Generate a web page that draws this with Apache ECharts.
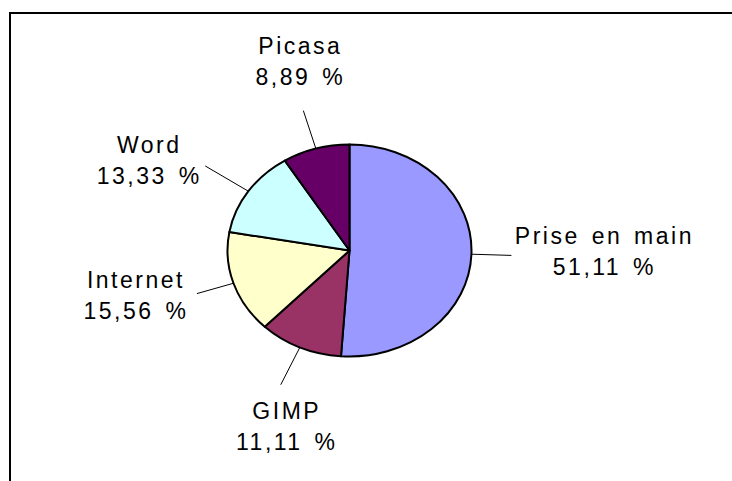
<!DOCTYPE html>
<html>
<head>
<meta charset="utf-8">
<script src="https://cdn.jsdelivr.net/npm/echarts@6/dist/echarts.min.js"></script>
<style>
  html, body { margin: 0; padding: 0; background: #fff; }
  #wrap { position: relative; width: 732px; height: 481px; overflow: hidden; }
  #chart { position: absolute; left: 0; top: 0; width: 732px; height: 481px; }
  #frame { position: absolute; left: 9px; top: 12px; width: 760px; height: 500px;
           border-top: 2px solid #000; border-left: 2px solid #000; pointer-events: none; }
  #chart svg text { letter-spacing: 2.5px; word-spacing: 3px; }
</style>
</head>
<body>
<div id="wrap">
  <div id="chart"></div>
  <div id="frame"></div>
</div>
<script>
// ---- data ----
const categories = ['Prise en main', 'GIMP', 'Internet', 'Word', 'Picasa'];
const percents = [51.11, 11.11, 15.56, 13.33, 8.89];
const colors = ['#9999FF', '#993366', '#FFFFCC', '#CCFFFF', '#660066'];

// ---- layout ----
const CX = 349.5, CY = 250.5, R = 122;
const K = 106 / 122;               // vertical squash -> elliptical pie
const lineLens = [40, 42, 38, 50, 40];
const labelOffsets = [[93, -4], [6, 42], [-61, 1.5], [-56, -5], [-3, -49]];

// squash the pie sectors vertically (elliptical pie as in the original)
const st = document.createElement('style');
st.textContent = '#chart svg path:not([fill="none"]) { transform-origin: ' + CX + 'px ' + CY +
  'px; transform: scaleY(' + K + '); vector-effect: non-scaling-stroke; }';
document.head.appendChild(st);

const chart = echarts.init(document.getElementById('chart'), null, { renderer: 'svg' });

function fmt(v) { return v.toFixed(2).replace('.', ',') + ' %'; }

chart.setOption({
  animation: false,
  series: [{
    type: 'pie',
    center: [CX, CY],
    radius: R,
    startAngle: 90,
    clockwise: true,
    avoidLabelOverlap: false,
    silent: true,
    data: categories.map((c, i) => ({ name: c, value: percents[i], itemStyle: { color: colors[i] } })),
    itemStyle: { borderColor: '#000', borderWidth: 2 },
    label: {
      show: true,
      position: 'outside',
      formatter: p => p.name + '\n' + fmt(p.value),
      fontFamily: 'Liberation Sans, Arial, sans-serif',
      fontSize: 23,
      lineHeight: 31,
      color: '#000',
      align: 'center'
    },
    labelLine: { show: true, length: 20, length2: 0, lineStyle: { color: '#000', width: 1 } },
    labelLayout: function (params) {
      const pts = params.labelLinePoints;
      if (!pts) return {};
      const i = params.dataIndex;
      const T = p => [p[0], CY + (p[1] - CY) * K];
      const a = T(pts[0]), b = T(pts[1]);
      const dx = b[0] - a[0], dy = b[1] - a[1];
      const len = Math.hypot(dx, dy) || 1;
      const L = lineLens[i];
      const e = [a[0] + dx / len * L, a[1] + dy / len * L];
      const off = labelOffsets[i];
      return {
        x: e[0] + off[0], y: e[1] + off[1],
        align: 'center', verticalAlign: 'middle',
        labelLinePoints: [a, e]
      };
    }
  }]
});
</script>
</body>
</html>
